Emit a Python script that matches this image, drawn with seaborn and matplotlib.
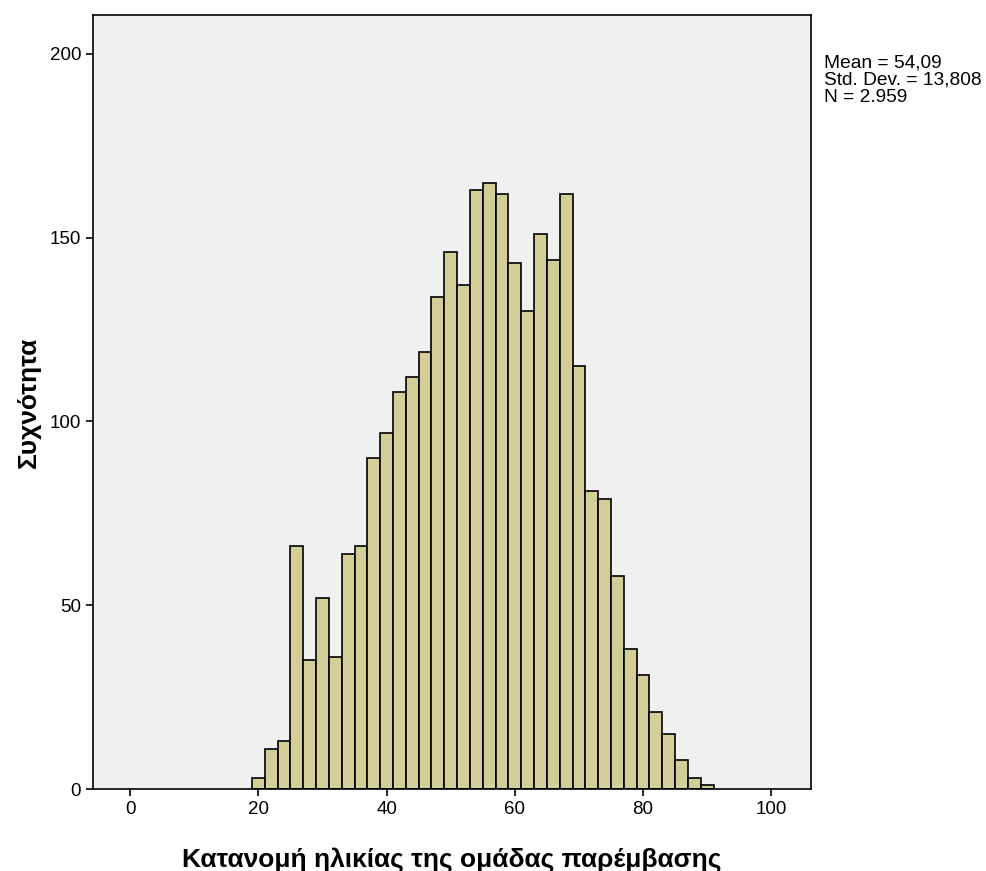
import numpy as np
import pandas as pd
import seaborn as sns
import matplotlib.pyplot as plt

# bin edges (age groups of width 2) and the counts
bin_edges = np.arange(19, 93, 2)
counts = [3, 11, 13, 66, 35, 52, 36, 64, 66, 90, 97, 108, 112, 119, 134, 146, 137,
          163, 165, 162, 143, 130, 151, 144, 162, 115, 81, 79, 58, 38, 31, 21, 15,
          8, 3, 1]
stats_text = "Mean = 54,09\nStd. Dev. = 13,808\nN = 2.959"

df = pd.DataFrame({'age': (bin_edges[:-1] + bin_edges[1:]) / 2, 'n': counts})

sns.set_style('ticks')
plt.rcParams['font.family'] = ['Liberation Sans', 'DejaVu Sans']
plt.rcParams['text.color'] = 'black'
plt.rcParams['axes.labelcolor'] = 'black'

fig = plt.figure(figsize=(9.86, 8.71), dpi=100)
ax = fig.add_axes([93 / 986, 1 - 789 / 871, (811 - 93) / 986, (789 - 15) / 871])
ax.set_facecolor('#f0f0f0')

sns.histplot(data=df, x='age', weights='n', binwidth=2,
             binrange=(bin_edges[0], bin_edges[-1]), color='#d3ce97',
             edgecolor='black', linewidth=1.2, alpha=1, ax=ax)

ax.set_xlim(-5.8, 106.2)
ax.set_ylim(0, 210.6)
ax.set_xticks([0, 20, 40, 60, 80, 100])
ax.set_yticks([0, 50, 100, 150, 200])
ax.tick_params(axis='both', direction='out', length=5, width=1.2, labelsize=13.5,
               colors='black')
for s in ax.spines.values():
    s.set_color('black')
    s.set_linewidth(1.2)

ax.set_xlabel('Κατανομή ηλικίας της ομάδας παρέμβασης', fontsize=19,
              fontweight='bold', labelpad=21)
ax.set_ylabel('Συχνότητα', fontsize=19, fontweight='bold', labelpad=6)

fig.text(824 / 986, 1 - 54 / 871, stats_text, fontsize=13.8, va='top', ha='left',
         linespacing=1.03)

fig.savefig('out.png', dpi=100)
